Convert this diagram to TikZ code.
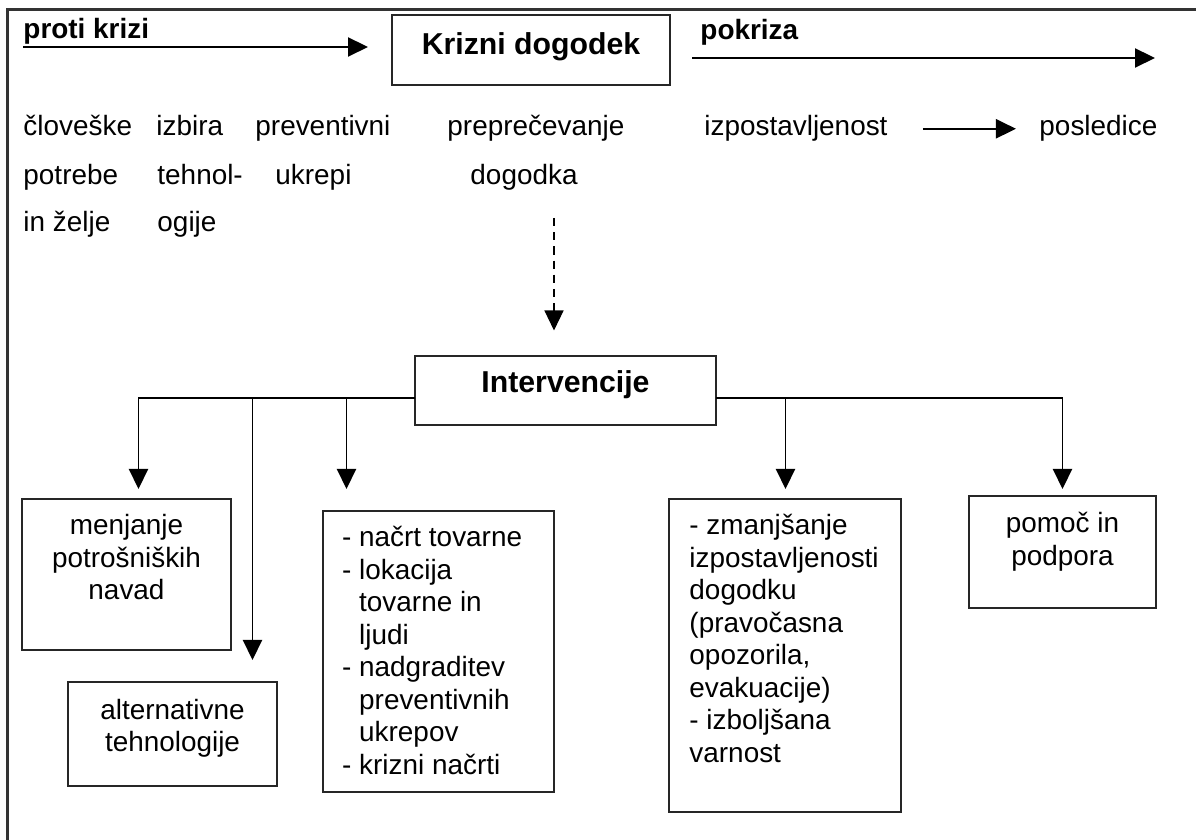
\documentclass[tikz,border=0pt]{standalone}
\usepackage{fontspec}
\setmainfont{Liberation Sans}
\usetikzlibrary{arrows.meta,fit}
\newcommand{\leftlines}[1]{\begin{tabular}[t]{@{}l@{}}#1\end{tabular}}
\newcommand{\centerlines}[1]{\begin{tabular}[t]{@{}c@{}}#1\end{tabular}}
\tikzset{
  boxnode/.style={draw=black!85, line width=0.9pt, inner sep=0pt, fit={#1}},
  txt/.style={inner sep=0pt, anchor=base west, font=\fontsize{12}{13.95}\selectfont},
  ctxt/.style={inner sep=0pt, anchor=base, font=\fontsize{12}{13.95}\selectfont},
  headtxt/.style={inner sep=0pt, anchor=base west, font=\fontsize{12}{14}\selectfont\bfseries},
  titletxt/.style={inner sep=0pt, anchor=base, font=\fontsize{13}{15.6}\selectfont\bfseries},
  arr/.style={line width=0.8pt, -{Triangle[length=8.6pt,width=8.2pt]}},
  dasharr/.style={line width=0.5pt, dash pattern=on 3.5pt off 2.6pt, -{Triangle[length=8.6pt,width=8.2pt,sep]}},
  framestyle/.style={draw=black!80, line width=0.9pt}
}
\begin{document}
\begin{tikzpicture}[x=0.43pt,y=-0.43pt]
\useasboundingbox (0,0) rectangle (1196,840);
% outer frame (cut at right and bottom)
\draw[framestyle] (1196,9.5) -- (7.5,9.5) -- (7.5,840);

% header
\node[headtxt] (proti) at (23,39) {proti krizi};
\coordinate (pk1) at (23,47);
\coordinate (pk2) at (368,47);
\draw[arr] (pk1) -- (pk2);

\node[boxnode={(392,15)(670,85)}] (krizni) {};
\node[titletxt] (kriznit) at (531,55) {Krizni dogodek};

\node[headtxt] (pokriza) at (700,40) {pokriza};
\coordinate (po1) at (692,58);
\coordinate (po2) at (1155,58);
\draw[arr] (po1) -- (po2);

% row texts
\node[txt] (r1a) at (23,136) {človeške};
\node[txt] (r1b) at (156,136) {izbira};
\node[txt] (r1c) at (255,136) {preventivni};
\node[txt] (r1d) at (447,136) {preprečevanje};
\node[txt] (izp) at (704,136) {izpostavljenost};
\node[txt] (posl) at (1039,136) {posledice};
\draw[arr, shorten <=15pt, shorten >=9.9pt] (izp.east) -- (posl.west);

\node[txt] (r2a) at (23,185) {potrebe};
\node[txt] (r2b) at (157,185) {tehnol-};
\node[txt] (r2c) at (275,185) {ukrepi};
\node[txt] (r2d) at (470,185) {dogodka};

\node[txt] (r3a) at (23,232) {in želje};
\node[txt] (r3b) at (157,232) {ogije};

% Intervencije
\node[boxnode={(415,356)(716,425)}] (interv) {};
\node[titletxt] (intervt) at (565.5,393) {Intervencije};

\coordinate (dstart) at (554,218);
\draw[dasharr, shorten >=9.5pt] (dstart) -- (dstart |- interv.north);

% branch junctions and arrow tips
\coordinate (jL) at (415,398);
\coordinate (jR) at (716,398);
\coordinate (t1) at (138.5,489);
\coordinate (t2) at (252.5,660);
\coordinate (t3) at (346.5,489);
\coordinate (t4) at (785.5,489);
\coordinate (t5) at (1062.5,489);
\draw[arr] (jL) -| (t1);
\draw[arr] (jL) -| (t2);
\draw[arr] (jL) -| (t3);
\draw[arr] (jR) -| (t4);
\draw[arr] (jR) -| (t5);

% bottom boxes
\node[boxnode={(22,499)(231,650)}] (menj) {};
\node[ctxt] (menjt) at (126.5,535) {\centerlines{menjanje\\potrošniških\\navad}};

\node[boxnode={(68,682)(277,786)}] (alt) {};
\node[ctxt] (altt) at (172.5,719) {\centerlines{alternativne\\tehnologije}};

\node[boxnode={(323,511)(554,792)}] (nacrt) {};
\node[txt] (nacrtt) at (341.7,547) {\leftlines{- načrt tovarne\\- lokacija\\\phantom{- }tovarne in\\\phantom{- }ljudi\\- nadgraditev\\\phantom{- }preventivnih\\\phantom{- }ukrepov\\- krizni načrti}};

\node[boxnode={(669,499)(901,812)}] (zman) {};
\node[txt] (zmant) at (689,535) {\leftlines{- zmanjšanje\\izpostavljenosti\\dogodku\\(pravočasna\\opozorila,\\evakuacije)\\- izboljšana\\varnost}};

\node[boxnode={(969,496)(1156,608)}] (pomoc) {};
\node[ctxt] (pomoct) at (1062.5,533) {\centerlines{pomoč in\\podpora}};
\end{tikzpicture}
\end{document}
